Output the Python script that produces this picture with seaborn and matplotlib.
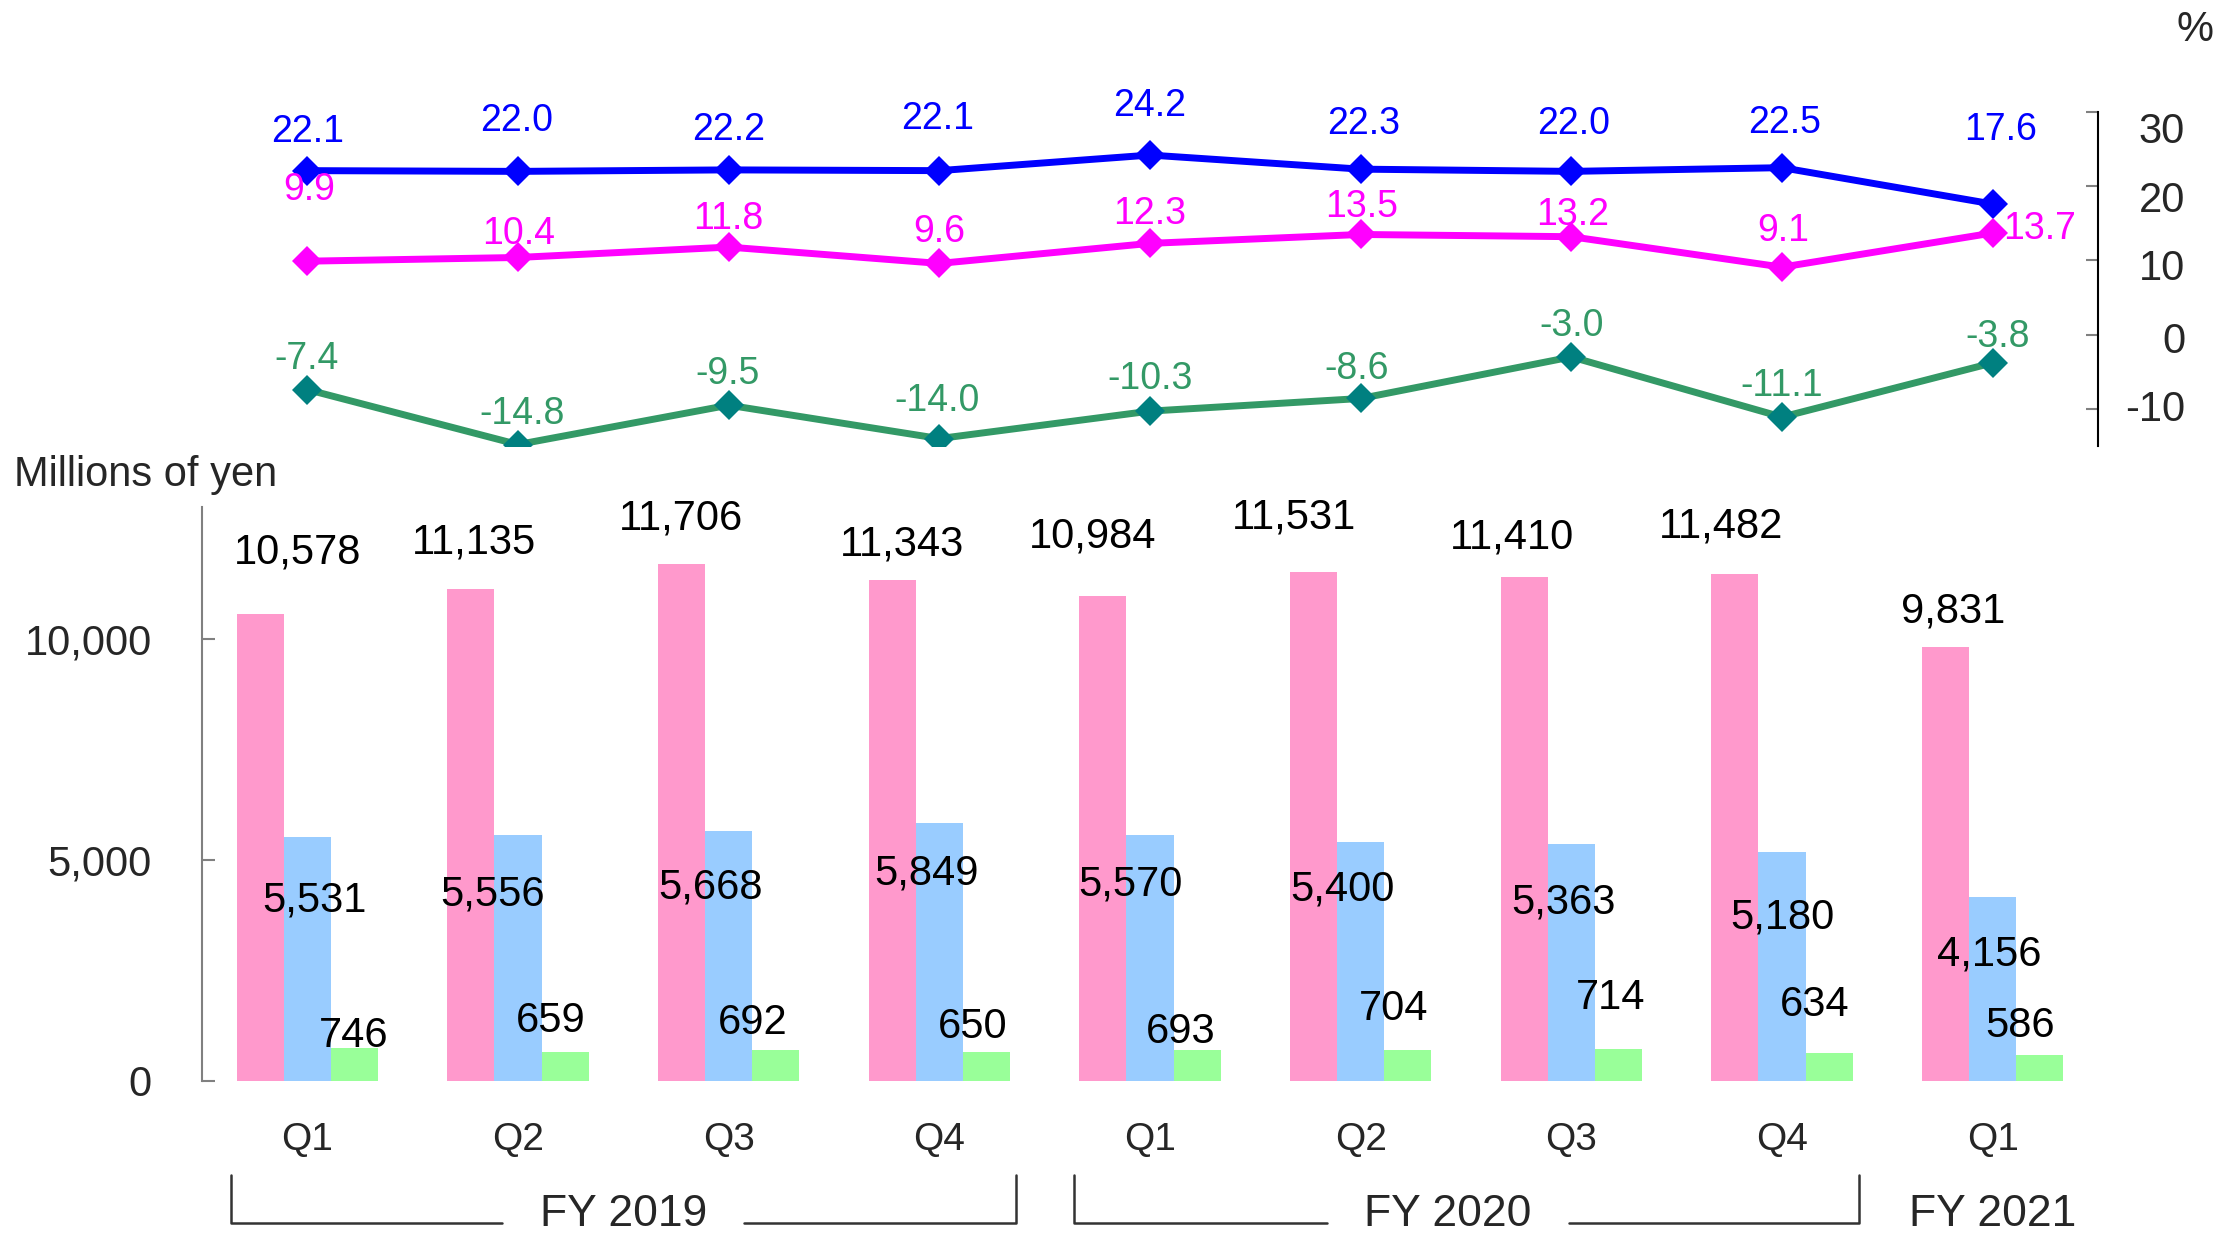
import numpy as np
import pandas as pd
import matplotlib
matplotlib.use("Agg")
import matplotlib.pyplot as plt
from matplotlib.lines import Line2D
from matplotlib.transforms import blended_transform_factory, offset_copy
import seaborn as sns

# ---- data ----
period_ids = ["2019Q1", "2019Q2", "2019Q3", "2019Q4",
              "2020Q1", "2020Q2", "2020Q3", "2020Q4", "2021Q1"]
quarter_labels = ["Q1", "Q2", "Q3", "Q4", "Q1", "Q2", "Q3", "Q4", "Q1"]
fiscal_years = ["FY 2019", "FY 2020", "FY 2021"]
fiscal_year_of_period = ["FY 2019"] * 4 + ["FY 2020"] * 4 + ["FY 2021"]

sales = [10578, 11135, 11706, 11343, 10984, 11531, 11410, 11482, 9831]
gross = [5531, 5556, 5668, 5849, 5570, 5400, 5363, 5180, 4156]
third = [746, 659, 692, 650, 693, 704, 714, 634, 586]

ratio_blue = [22.1, 22.0, 22.2, 22.1, 24.2, 22.3, 22.0, 22.5, 17.6]
ratio_magenta = [9.9, 10.4, 11.8, 9.6, 12.3, 13.5, 13.2, 9.1, 13.7]
ratio_green = [-7.4, -14.8, -9.5, -14.0, -10.3, -8.6, -3.0, -11.1, -3.8]
ratio_ticks = [-10, 0, 10, 20, 30]

# ---- styling ----
bar_colors = ["#FF99CC", "#99CCFF", "#99FF99"]
BLUE, MAGENTA, SEA_GREEN, TEAL = "#0000FF", "#FF00FF", "#339966", "#008080"

# label offsets (pixels) relative to the mark they describe
sales_off = [(-10, 66), (-44, 52), (-48, 51), (-37, 41), (-57, 64),
             (-67, 59), (-59, 45), (-61, 52), (-40, 40)]
gross_off = [(7, -59), (-25, -54), (-18, -52), (-13, -46), (-20, -45),
             (-18, -42), (-8, -54), (0, -60), (-3, -52)]
third_off = [(-1, 17), (-14, 36), (-23, 32), (-14, 30), (-16, 23),
             (-14, 46), (-8, 56), (-14, 53), (-20, 34)]
blue_off = [(0, 44), (-1, 55), (0, 45), (-2, 57), (0, 54),
            (3, 50), (2, 52), (3, 50), (8, 79)]
magenta_off = [(2, 76), (1, 28), (0, 33), (0, 36), (0, 34),
               (1, 32), (1, 27), (1, 41), (47, 9)]
green_off = [(-1, 36), (4, 36), (-1, 36), (-2, 43), (0, 37),
             (-4, 34), (0, 36), (0, 36), (5, 31)]
ratio_tick_label_shift = [1, -5, -7, -13, -18]   # pixels, per tick label
fy_label_shift = [0.0, -0.085, 0.0]              # data units
TEXT_NUDGE = -5                                  # baseline correction, px

sns.set_theme(style="white")
plt.rcParams["font.family"] = ["Liberation Sans", "DejaVu Sans"]

W, H = 2219, 1235
fig = plt.figure(figsize=(W / 100, H / 100), dpi=100)
fig.patch.set_facecolor("white")

# ---- bar chart ----
ax_bar = fig.add_axes([202 / W, 1 - 1080.6 / H, 1896 / W, (1080.6 - 507) / H])
df = pd.DataFrame({
    "period": period_ids * 3,
    "value": sales + gross + third,
    "series": ["sales"] * 9 + ["gross"] * 9 + ["third"] * 9,
})
sns.barplot(data=df, x="period", y="value", hue="series", order=period_ids,
            hue_order=["sales", "gross", "third"], palette=bar_colors,
            width=0.67, saturation=1, linewidth=0, legend=False, ax=ax_bar)
ax_bar.set_xlim(-0.5, 8.5)
ax_bar.set_ylim(0, 13000)
ax_bar.set_xlabel("")
ax_bar.set_ylabel("")
ax_bar.set_yticks([0, 5000, 10000])
ax_bar.set_yticklabels(["0", "5,000", "10,000"])
ax_bar.set_xticks(range(len(period_ids)))
ax_bar.set_xticklabels(quarter_labels)
for s in ["top", "right", "bottom"]:
    ax_bar.spines[s].set_visible(False)
ax_bar.spines["left"].set_color("#808080")
ax_bar.spines["left"].set_linewidth(1.5)
ax_bar.tick_params(axis="y", direction="in", length=9.5, width=1.5,
                   color="#808080", labelsize=30, pad=36, left=True)
ax_bar.tick_params(axis="x", length=0, labelsize=28, pad=30)

group_centers = [ax_bar.get_xticks()[i] for i in range(len(period_ids))]
label_sets = [
    (ax_bar.containers[0], sales, sales_off, True),
    (ax_bar.containers[1], gross, gross_off, False),
    (ax_bar.containers[2], third, third_off, False),
]
for cont, vals, offs, centred in label_sets:
    for i, (patch, v, (dx, dy)) in enumerate(zip(cont.patches, vals, offs)):
        cx = group_centers[i] if centred else patch.get_x() + patch.get_width() / 2
        ax_bar.annotate(f"{v:,}", xy=(cx, v), xytext=(dx, dy + TEXT_NUDGE),
                        textcoords="offset pixels", ha="center", va="center",
                        fontsize=30, color="black", annotation_clip=False)

# ---- ratio lines ----
ax_line = fig.add_axes([202 / W, 1 - 446 / H, 1896 / W, 334 / H])
ax_line.patch.set_alpha(0)
xpos = np.arange(len(period_ids))
for vals, lc, mc, tc, offs in [
        (ratio_blue, BLUE, BLUE, BLUE, blue_off),
        (ratio_magenta, MAGENTA, MAGENTA, MAGENTA, magenta_off),
        (ratio_green, SEA_GREEN, TEAL, SEA_GREEN, green_off)]:
    sns.lineplot(x=xpos, y=vals, ax=ax_line, color=lc, linewidth=5,
                 marker="D", markersize=15, markerfacecolor=mc,
                 markeredgecolor=mc, markeredgewidth=0)
    for x, v, (dx, dy) in zip(xpos, vals, offs):
        ax_line.annotate(f"{v:.1f}", xy=(x, v), xytext=(dx, dy + TEXT_NUDGE),
                         textcoords="offset pixels", ha="center", va="center",
                         fontsize=27, color=tc, annotation_clip=False)
ax_line.set_xlim(-0.5, 8.5)
ax_line.set_ylim(-15, 30)
ax_line.set_xticks([])
ax_line.yaxis.tick_right()
ax_line.set_yticks(ratio_ticks)
ax_line.set_yticklabels([])
for s in ["top", "left", "bottom"]:
    ax_line.spines[s].set_visible(False)
ax_line.spines["right"].set_color("black")
ax_line.spines["right"].set_linewidth(1.5)
ax_line.tick_params(axis="y", direction="in", length=9, width=1.5,
                    color="#808080", right=True, left=False)
tr_right = blended_transform_factory(ax_line.transAxes, ax_line.transData)
for t, sh in zip(ratio_ticks, ratio_tick_label_shift):
    ax_line.text(1.0, t, f"{t}", fontsize=30, ha="right", va="center",
                 transform=offset_copy(tr_right, fig=fig, x=87, y=sh + TEXT_NUDGE + 3,
                                       units="dots"))

# ---- units ----
fig.text(14 / W, 1 - 475 / H, "Millions of yen", fontsize=30,
         ha="left", va="center")
fig.text(2195 / W, 1 - 30 / H, "%", fontsize=30, ha="center", va="center")

# ---- fiscal-year brackets ----
tr = blended_transform_factory(ax_bar.transData, fig.transFigure)
y_top, y_bot, y_txt = 1 - 1175 / H, 1 - 1223 / H, 1 - 1215 / H
gap = 121 / 1896 * 9  # half-gap around the year label, in data units
for fy, shift in zip(fiscal_years, fy_label_shift):
    idx = [i for i, f in enumerate(fiscal_year_of_period) if f == fy]
    lo, hi = idx[0], idx[-1]
    mid = (lo + hi) / 2 + shift
    fig.text(mid, y_txt, fy, fontsize=32, ha="center", va="center",
             transform=tr)
    if hi > lo:
        x0, x1 = lo - 0.36, hi + 0.365
        segs = [([x0, x0, mid - gap], [y_top, y_bot, y_bot]),
                ([mid + gap, x1, x1], [y_bot, y_bot, y_top])]
        for xs, ys in segs:
            fig.add_artist(Line2D(xs, ys, transform=tr, color="#333333",
                                  linewidth=1.8))

fig.savefig("out.png", dpi=100, facecolor="white")
